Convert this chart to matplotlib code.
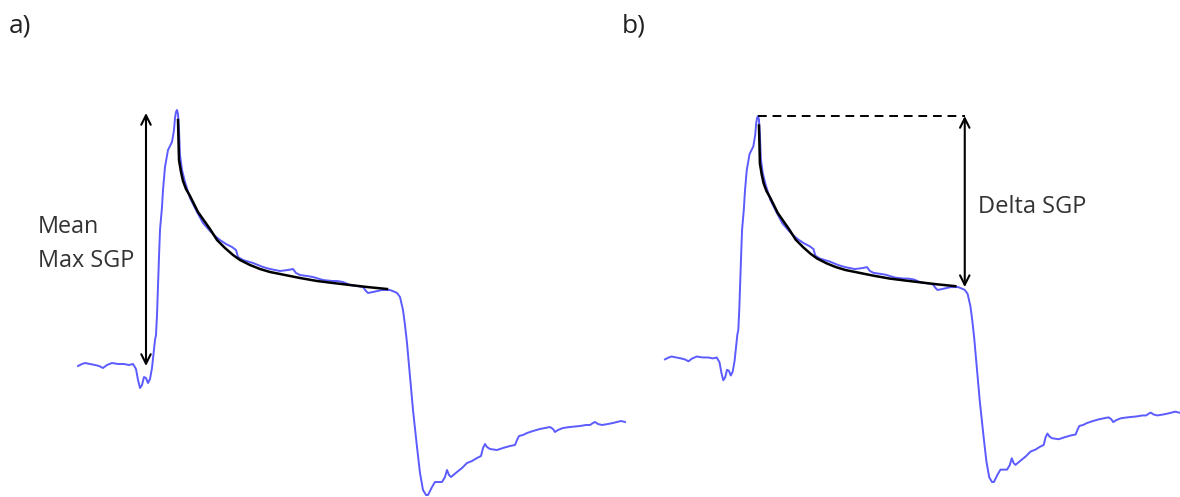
# -*- coding: utf-8 -*-
"""
Output: out.png - SGP trace with exponential fit, Mean Max SGP (a) and Delta SGP (b)
"""

import numpy as np
import matplotlib.pyplot as plt

plt.rcParams['font.family'] = ['Open Sans', 'DejaVu Sans']
plt.rcParams['savefig.facecolor'] = 'white'

### 0 ### Data (arbitrary units)

# blue pressure trace
time = [0, 4, 7, 12, 17, 21, 25, 29, 34, 40, 46, 51, 55, 58, 60, 62, 64, 66, 68, 70,
        72, 74, 76, 77, 78, 79, 80, 81, 82, 84, 85, 87, 90, 92, 94, 96, 97, 98, 99, 100,
        101, 102, 104, 107, 112, 119, 125, 132, 137, 142, 148, 154, 158, 160, 165, 175, 185, 192, 202, 210,
        215, 218, 222, 229, 235, 245, 254, 259, 265, 272, 279, 285, 288, 290, 295, 304, 312, 317, 319, 322,
        325, 327, 329, 332, 335, 339, 342, 345, 348, 350, 352, 354, 357, 361, 364, 367, 369, 371, 373, 379,
        384, 389, 394, 399, 403, 405, 407, 409, 412, 419, 425, 432, 437, 439, 441, 445, 449, 455, 462, 467,
        472, 475, 477, 480, 485, 492, 502, 508, 512, 515, 517, 520, 524, 530, 535, 539, 543, 547]
pressure = [129, 131, 132, 131, 130, 129, 127, 130, 132, 131, 131, 130, 131, 126, 115, 107, 110, 118, 117, 112,
            116, 127, 145, 155, 160, 180, 210, 238, 265, 288, 305, 328, 345, 349, 353, 365, 377, 383, 385, 381,
            365, 340, 325, 313, 297, 283, 272, 264, 259, 255, 251, 248, 245, 238, 235, 232, 228, 226, 224, 225,
            226, 222, 220, 219, 218, 215, 214, 214, 213, 210, 209, 208, 204, 202, 203, 205, 205, 203, 202, 198,
            185, 170, 152, 118, 85, 48, 22, 5, 0, 0, 4, 8, 13, 13, 13, 18, 25, 20, 18, 23,
            27, 32, 34, 37, 39, 47, 51, 48, 46, 45, 47, 49, 50, 55, 59, 60, 62, 64, 66, 67,
            68, 66, 63, 65, 67, 68, 69, 70, 70, 72, 73, 71, 70, 71, 72, 73, 74, 73]

# black exponential fit
fit_time = [100, 100.5, 101, 103, 105, 108, 112, 116, 120, 127, 132, 139, 147, 155, 162, 172, 182, 192,
            207, 222, 239, 255, 272, 289, 309]
fit_pressure = [375, 355, 335, 323, 314, 306, 299, 291, 283, 273, 266, 255, 247, 240, 235, 230, 226, 223,
                220, 217, 214, 212, 210, 208, 206]

baseline = 129
peak = 385
peak_time = 99
plateau = 205
plateau_time = 319

### 1 ### Figure

fig = plt.figure(figsize=(11.8, 4.97), dpi=100)
W, H = 1180, 497

ax_a = fig.add_axes([78 / W, 2 / H, 547 / W, 385 / H])
ax_b = fig.add_axes([665 / W, 15 / H, 514 / W, 366 / H])

blue = '#5b5bff'
for ax in (ax_a, ax_b):
    ax.plot(time, pressure, color=blue, lw=1.4, clip_on=False)
    ax.plot(fit_time, fit_pressure, color='black', lw=1.8, clip_on=False)
    ax.set_xlim(0, 547)
    ax.set_ylim(0, 385)
    ax.axis('off')

arrow = dict(arrowstyle='<->', color='black', lw=1.5, shrinkA=0, shrinkB=0, mutation_scale=17)

# a) mean max SGP
ax_a.annotate('', xy=(68, baseline), xytext=(68, peak - 3), arrowprops=arrow, annotation_clip=False)
ax_a.text(-40, 251, 'Mean\nMax SGP', fontsize=16.8, ha='left', va='center',
          linespacing=1.6, color='#333333')

# b) delta SGP
ax_b.plot([peak_time, plateau_time], [peak, peak], color='black', lw=1.4, ls=(0, (4.5, 3)), clip_on=False)
ax_b.annotate('', xy=(plateau_time, plateau), xytext=(plateau_time, peak), arrowprops=arrow,
              annotation_clip=False)
ax_b.text(333, 289, 'Delta SGP', fontsize=17, ha='left', va='center', color='#333333')

fig.text(9 / W, 1 - 26 / H, 'a)', fontsize=19, ha='left', va='center', color='#222222')
fig.text(622 / W, 1 - 26 / H, 'b)', fontsize=19, ha='left', va='center', color='#222222')

### 2 ### Export
plt.savefig('out.png', dpi=100)
